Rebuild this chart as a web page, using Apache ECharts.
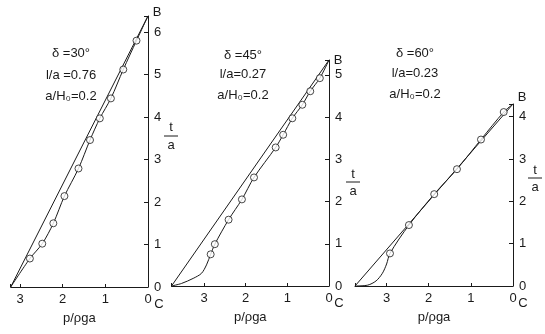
<!DOCTYPE html>
<html>
<head>
<meta charset="utf-8">
<script src="https://cdn.jsdelivr.net/npm/echarts@6/dist/echarts.min.js"></script>
<style>
  html, body { margin: 0; padding: 0; background: #fff; }
  #chart { width: 545px; height: 334px; }
</style>
</head>
<body>
<div id="chart"></div>
<script>
// panel extents (p/ρga along x, t/a along y)
const xMax = [3.22, 3.78, 3.75];
const yMax = [6.38, 5.35, 4.3];

// straight boundary lines
const line1 = [[3.22, 0], [0, 6.38]];
const line2 = [[3.78, 0], [0, 5.35]];
const line3 = [[3.75, 0], [0, 4.3]];

// curved lines
const curve1 = [[3.22, 0], [2.77, 0.67], [2.48, 1.02], [2.22, 1.5], [1.96, 2.14], [1.63, 2.79],
  [1.36, 3.46], [1.13, 3.97], [0.87, 4.44], [0.58, 5.12], [0.27, 5.8], [0, 6.38]];
const curve2 = [[3.78, 0], [3.54, 0.06], [3.26, 0.18], [3.06, 0.3], [2.94, 0.5], [2.84, 0.75],
  [2.74, 0.99], [2.41, 1.57], [2.09, 2.05], [1.8, 2.57], [1.28, 3.28], [1.1, 3.58], [0.88, 3.97],
  [0.64, 4.29], [0.45, 4.61], [0.22, 4.92], [0, 5.35]];
const curve3 = [[3.75, 0], [3.45, 0.02], [3.25, 0.12], [3.1, 0.3], [3.0, 0.52], [2.92, 0.77],
  [2.47, 1.44], [1.87, 2.17], [1.33, 2.76], [0.76, 3.46], [0.22, 4.11], [0, 4.3]];

// measured points (circles)
const pts1 = [[2.77, 0.67], [2.48, 1.02], [2.22, 1.5], [1.96, 2.14], [1.63, 2.79],
  [1.36, 3.46], [1.13, 3.97], [0.87, 4.44], [0.58, 5.12], [0.27, 5.8]];
const pts2 = [[2.84, 0.75], [2.74, 0.99], [2.41, 1.57], [2.09, 2.05], [1.8, 2.57],
  [1.28, 3.28], [1.1, 3.58], [0.88, 3.97], [0.64, 4.29], [0.45, 4.61], [0.22, 4.92]];
const pts3 = [[2.92, 0.77], [2.47, 1.44], [1.87, 2.17], [1.33, 2.76], [0.76, 3.46], [0.22, 4.11]];

// parameter labels
const params = [
  ['δ =30°', 'l/a =0.76', 'a/H₀=0.2'],
  ['δ =45°', 'l/a=0.27', 'a/H₀=0.2'],
  ['δ =60°', 'l/a=0.23', 'a/H₀=0.2']
];

const FONT = '"Liberation Sans", "DejaVu Sans", sans-serif';
const INK = '#1a1a1a';

const grids = [
  { left: 10.7, top: 16, width: 137.3, height: 271 },
  { left: 171.5, top: 60, width: 157.5, height: 226 },
  { left: 355, top: 104, width: 158, height: 182 }
];

const intLabel = (v) => (Math.abs(v - Math.round(v)) < 1e-6 ? String(Math.round(v)) : '');

const xAxes = grids.map((g, i) => ({
  type: 'value', gridIndex: i, inverse: true, min: 0, max: xMax[i], interval: 1,
  name: 'p/ρga', nameLocation: 'middle', nameGap: 25,
  nameTextStyle: { color: INK, fontSize: 13, fontFamily: FONT },
  axisLine: { show: true, lineStyle: { color: INK, width: 1 } },
  axisTick: { show: true, inside: true, length: 3, lineStyle: { color: INK } },
  axisLabel: { formatter: intLabel, color: INK, fontSize: 13, fontFamily: FONT, margin: 6 },
  splitLine: { show: false }
}));

const yAxes = grids.map((g, i) => ({
  type: 'value', gridIndex: i, position: 'right', min: 0, max: yMax[i], interval: 1,
  axisLine: { show: true, lineStyle: { color: INK, width: 1 } },
  axisTick: { show: true, inside: true, length: 4, lineStyle: { color: INK } },
  axisLabel: { formatter: intLabel, color: INK, fontSize: 13, fontFamily: FONT, margin: 6 },
  splitLine: { show: false }
}));

const lines = [line1, line2, line3];
const curves = [curve1, curve2, curve3];
const pts = [pts1, pts2, pts3];

const series = [];
for (let i = 0; i < 3; i++) {
  series.push({
    type: 'line', xAxisIndex: i, yAxisIndex: i, data: lines[i], showSymbol: false,
    lineStyle: { color: INK, width: 1 }, silent: true
  });
  series.push({
    type: 'line', xAxisIndex: i, yAxisIndex: i, data: curves[i], showSymbol: false,
    smooth: 0.3, lineStyle: { color: INK, width: 1 }, silent: true
  });
  series.push({
    type: 'scatter', xAxisIndex: i, yAxisIndex: i, data: pts[i], symbol: 'circle', symbolSize: 7,
    itemStyle: { color: '#fff', borderColor: INK, borderWidth: 1 }, z: 5
  });
}

const txt = (text, x, y, align) => ({
  type: 'text', x: x, y: y,
  style: { text: text, font: '13px ' + FONT, fill: INK, align: align || 'center', verticalAlign: 'middle' }
});

const graphic = [];
// parameter blocks
const paramPos = [[71, [53, 75, 96]], [243, [55, 74, 95]], [415, [53, 73, 94]]];
params.forEach((lines3, i) => {
  lines3.forEach((s, k) => graphic.push(txt(s, paramPos[i][0], paramPos[i][1][k])));
});
// B and C labels
[[157, 12], [338, 60], [522, 97]].forEach(p => graphic.push(txt('B', p[0], p[1])));
[[159, 304], [339, 303], [523, 303]].forEach(p => graphic.push(txt('C', p[0], p[1])));
// t/a fractions
[[171, 127, 136], [353, 174, 182], [535, 170, 178]].forEach(p => {
  graphic.push(txt('t', p[0], p[1]));
  graphic.push({ type: 'line', shape: { x1: p[0] - 7, y1: p[2], x2: p[0] + 7, y2: p[2] },
    style: { stroke: INK, lineWidth: 1 } });
  graphic.push(txt('a', p[0], p[2] + 9));
});

const chart = echarts.init(document.getElementById('chart'));
chart.setOption({
  backgroundColor: '#fff',
  animation: false,
  grid: grids,
  xAxis: xAxes,
  yAxis: yAxes,
  series: series,
  graphic: graphic
});
</script>
</body>
</html>
